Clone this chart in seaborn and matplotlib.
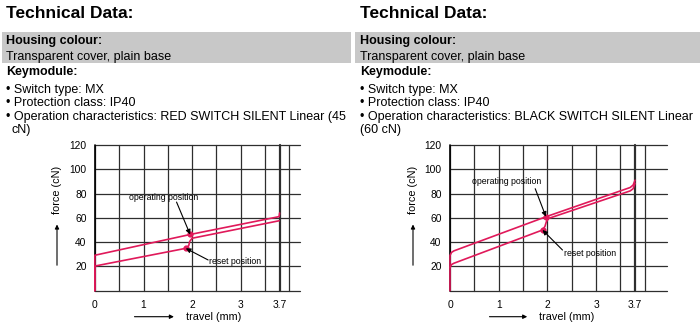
import matplotlib
matplotlib.use("Agg")
import matplotlib.pyplot as plt
import seaborn as sns
import pandas as pd

# ---------------- data ----------------
titles = ["Technical Data:", "Technical Data:"]
housing_label = "Housing colour:"
housing_value = "Transparent cover, plain base"
keymodule_label = "Keymodule:"
bullets_left = ["• Switch type: MX", "• Protection class: IP40",
                "• Operation characteristics: RED SWITCH SILENT Linear (45", "cN)"]
bullets_right = ["• Switch type: MX", "• Protection class: IP40",
                 "• Operation characteristics: BLACK SWITCH SILENT Linear", "(60 cN)"]

x_tick_pos = [0, 1, 2, 3, 3.8]
x_tick_labels = ["0", "1", "2", "3", "3.7"]
y_ticks = [20, 40, 60, 80, 100, 120]

# RED SWITCH SILENT (45 cN): press / release curves
red_press_x = [0, 0, 1.96, 3.79, 3.80]
red_press_y = [0, 29.2, 46.3, 61.0, 64.0]
red_release_x = [0, 0, 1.87, 1.93, 1.95, 2.00, 3.79]
red_release_y = [0, 20.3, 34.9, 37.0, 40.5, 43.2, 57.6]
red_operating = (1.96, 46.3)
red_reset = (1.87, 34.9)

# BLACK SWITCH SILENT (60 cN): press / release curves
blk_press_x = [0, 0, 0.03, 0.08, 1.97, 3.70, 3.76, 3.80]
blk_press_y = [0, 29.0, 31.5, 32.8, 60.9, 85.0, 87.0, 91.0]
blk_release_x = [0, 0.03, 0.08, 1.90, 1.95, 1.98, 2.03, 3.70, 3.76, 3.80]
blk_release_y = [19.0, 21.5, 22.6, 50.0, 53.0, 57.0, 59.6, 82.2, 84.0, 88.5]
blk_operating = (1.97, 60.9)
blk_reset = (1.90, 50.0)

# ---------------- style ----------------
sns.set_style("white")
plt.rcParams['font.family'] = ['Liberation Sans', 'DejaVu Sans']
plt.rcParams['text.color'] = 'black'
plt.rcParams['xtick.color'] = 'black'
plt.rcParams['ytick.color'] = 'black'

W, H = 700, 326
fig = plt.figure(figsize=(7, 3.26), dpi=100)

def px(x, y):
    return (x / W, 1 - y / H)

CURVE = '#e0195a'
GRID = '#2e2e2e'
BOX = '#c8c8c8'

# ---------------- header text blocks ----------------
def header(x0, box_x0, box_x1, bullets, wrap_dx):
    fig.patches.append(plt.Rectangle(px(box_x0, 63), (box_x1 - box_x0) / W, 31.5 / H,
                                     transform=fig.transFigure, facecolor=BOX,
                                     edgecolor='none', zorder=0))
    fig.text(*px(x0, 18.3), titles[0], fontsize=12.5, fontweight='bold', va='baseline')
    fig.text(*px(x0, 44.3), housing_label, fontsize=9, fontweight='bold', va='baseline')
    fig.text(*px(x0, 60), housing_value, fontsize=9, va='baseline')
    fig.text(*px(x0, 75), keymodule_label, fontsize=9, fontweight='bold', va='baseline')
    base = [92.7, 106, 120, 132.7]
    for i, b in enumerate(bullets):
        xx = x0 + (wrap_dx if i == 3 else 0)
        fig.text(*px(xx, base[i]), b, fontsize=9, va='baseline')

header(6, 2, 351, bullets_left, 6)
header(360, 355, 700, bullets_right, 0)

# ---------------- charts ----------------
def chart(x_left_px, xmax, px_per_mm, press, release, op, rs,
          op_txt, op_from, rs_txt, rs_from, lab_x, trav_c, trav_arrow):
    y0, y120 = 290.7, 145.0
    ax = fig.add_axes([x_left_px / W, 1 - y0 / H, xmax * px_per_mm / W, (y0 - y120) / H])
    ax.set_xlim(0, xmax)
    ax.set_ylim(0, 120)
    for s in ax.spines.values():
        s.set_visible(False)
    for yv in [0] + y_ticks:
        ax.axhline(yv, color=GRID, lw=0.9, clip_on=False, zorder=1)
    xs = [0.5 * k for k in range(0, 9) if 0.5 * k <= xmax]
    for xv in xs:
        ax.axvline(xv, color=GRID, lw=0.9, clip_on=False, zorder=1)
    ax.axvline(0, color='black', lw=1.2, clip_on=False, zorder=1)
    ax.axvline(3.8, color=GRID, lw=1.6, clip_on=False, zorder=1)

    for (cx, cy) in (press, release):
        df = pd.DataFrame({'travel': cx, 'force': cy})
        sns.lineplot(data=df, x='travel', y='force', sort=False, estimator=None,
                     color=CURVE, lw=1.2, ax=ax, zorder=3, clip_on=False)
    ax.scatter([op[0], rs[0]], [op[1], rs[1]], s=12, color=CURVE, zorder=4)

    ax.set_xticks(x_tick_pos)
    ax.set_xticklabels(x_tick_labels)
    ax.set_yticks(y_ticks)
    ax.tick_params(axis='both', labelsize=7.4, length=3, width=0.8, color=GRID, pad=3)
    ax.tick_params(axis='x', pad=4)
    ax.set_xlabel('')
    ax.set_ylabel('')

    ax.text(op_txt[0], op_txt[1], "operating position", fontsize=6.3, ha='center', va='center')
    ax.annotate('', xy=op, xytext=op_from,
                arrowprops=dict(arrowstyle='-|>', color='black', lw=0.8, mutation_scale=7,
                                shrinkA=0, shrinkB=0), zorder=5)
    ax.text(rs_txt[0], rs_txt[1], "reset position", fontsize=6.3, ha='center', va='center')
    ax.annotate('', xy=rs, xytext=rs_from,
                arrowprops=dict(arrowstyle='-|>', color='black', lw=0.8, mutation_scale=7,
                                shrinkA=0, shrinkB=0), zorder=5)

    # axis labels with arrows
    fig.text(*px(lab_x, 190), "force (cN)", rotation=90, fontsize=7.8, ha='center', va='center')
    fig.add_artist(matplotlib.patches.FancyArrowPatch(px(lab_x, 268), px(lab_x, 221.7),
                   transform=fig.transFigure, arrowstyle='-|>', mutation_scale=6,
                   color='black', lw=0.8))
    fig.text(*px(trav_c, 316.7), "travel (mm)", fontsize=7.8, ha='center', va='center')
    fig.add_artist(matplotlib.patches.FancyArrowPatch(px(trav_arrow[0], 316.7), px(trav_arrow[1], 316.7),
                   transform=fig.transFigure, arrowstyle='-|>', mutation_scale=6,
                   color='black', lw=0.8))
    return ax

chart(94.9, 4.22, 48.6, (red_press_x, red_press_y), (red_release_x, red_release_y),
      red_operating, red_reset, (1.41, 76.5), (1.68, 73), (2.88, 23.9), (2.33, 25.3),
      57, 213.3, (131.7, 176.7))
chart(450.0, 4.45, 48.7, (blk_press_x, blk_press_y), (blk_release_x, blk_release_y),
      blk_operating, blk_reset, (1.16, 89.7), (1.75, 84), (2.87, 30.8), (2.31, 33.5),
      413, 566.7, (486.7, 530))

fig.savefig("out.png", dpi=100)
